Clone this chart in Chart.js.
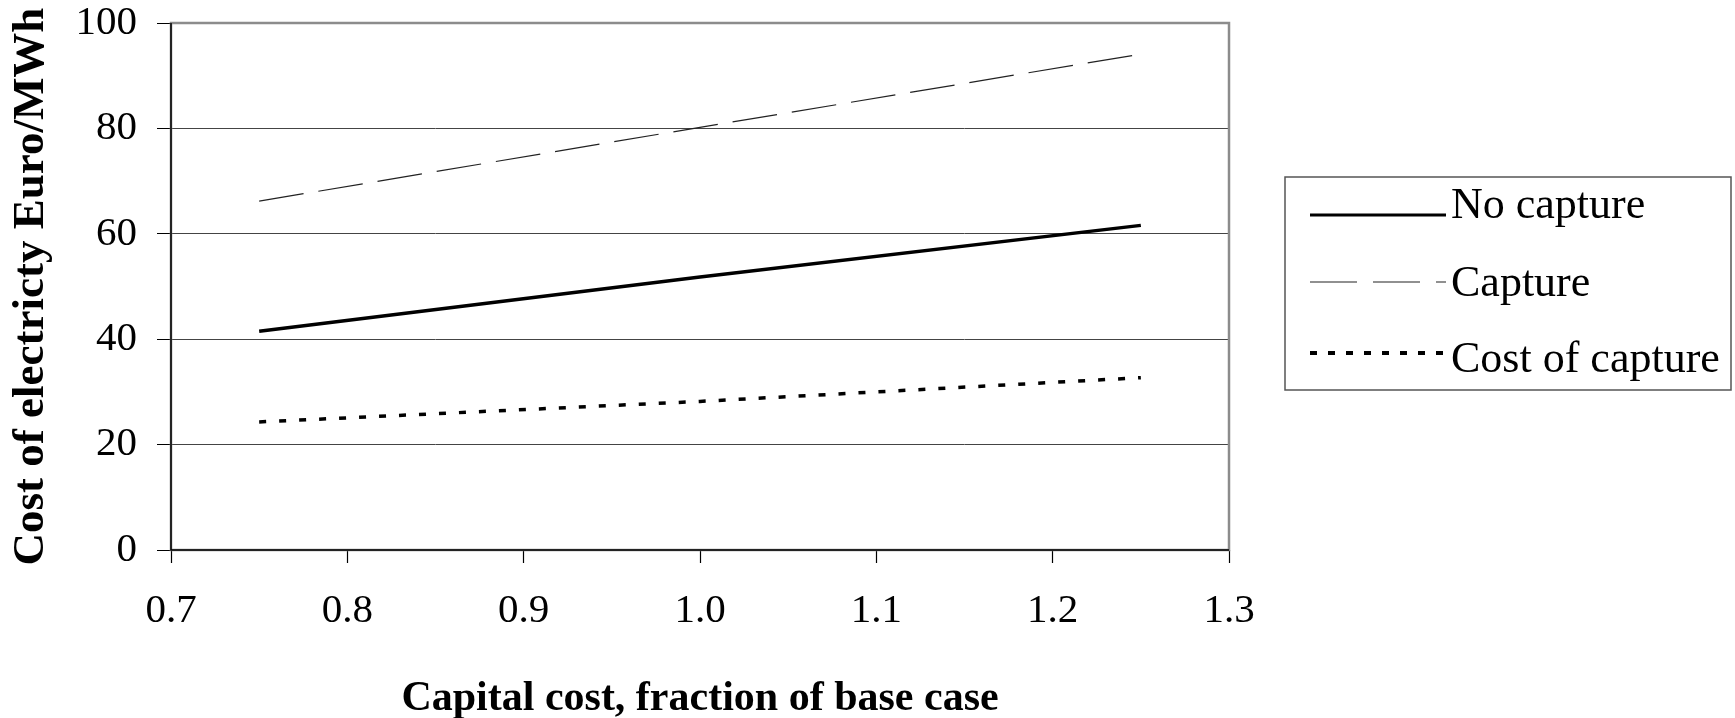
<!DOCTYPE html>
<html>
<head>
<meta charset="utf-8">
<title>Cost of electricity vs capital cost</title>
<script src="https://cdn.jsdelivr.net/npm/chart.js@4"></script>
<style>
  html, body { margin: 0; padding: 0; background: #ffffff; }
  canvas { display: block; }
</style>
</head>
<body>
<canvas id="chart" width="1735" height="718"></canvas>
<script>
// Capital cost as a fraction of the base case
const capitalFraction = [0.75, 1.0, 1.25];
// Cost of electricity, Euro/MWh
const noCapture = [41.5, 51.8, 61.6];
const capture = [66.2, 80.2, 94.1];
const costOfCapture = [24.3, 28.2, 32.7];

const xTickValues = [0.7, 0.8, 0.9, 1.0, 1.1, 1.2, 1.3];
const yTickValues = [0, 20, 40, 60, 80, 100];

const seriesNames = ['No capture', 'Capture', 'Cost of capture'];

const SERIF = '"Liberation Serif", "Times New Roman", serif';

function toPoints(ys) {
  return capitalFraction.map((x, i) => ({ x: x, y: ys[i] }));
}

// Grey plot frame with black value/category axis lines on top of it
const plotFrame = {
  id: 'plotFrame',
  beforeDatasetsDraw(chart) {
    const { ctx, chartArea: a } = chart;
    ctx.save();
    ctx.strokeStyle = '#8c8c8c';
    ctx.lineWidth = 2.5;
    ctx.strokeRect(a.left, a.top, a.right - a.left, a.bottom - a.top);
    ctx.strokeStyle = '#000000';
    ctx.lineWidth = 1.5;
    ctx.beginPath();
    ctx.moveTo(a.left, a.top);
    ctx.lineTo(a.left, a.bottom);
    ctx.lineTo(a.right, a.bottom);
    ctx.stroke();
    ctx.restore();
  }
};

// Boxed legend to the right of the plot, styled from each dataset
const boxedLegend = {
  id: 'boxedLegend',
  afterDraw(chart) {
    const { ctx } = chart;
    const box = { left: 1285, top: 177, right: 1731, bottom: 390 };
    ctx.save();
    ctx.strokeStyle = '#555555';
    ctx.lineWidth = 1.5;
    ctx.strokeRect(box.left, box.top, box.right - box.left, box.bottom - box.top);
    const lineY = [215, 282, 353];
    const textBase = [218, 296, 372];
    chart.data.datasets.forEach((ds, i) => {
      ctx.strokeStyle = ds.borderColor;
      ctx.lineWidth = ds.legendWidth || ds.borderWidth;
      ctx.setLineDash(ds.legendDash || ds.borderDash || []);
      ctx.beginPath();
      ctx.moveTo(1310, lineY[i]);
      ctx.lineTo(1446, lineY[i]);
      ctx.stroke();
      ctx.setLineDash([]);
      ctx.fillStyle = '#000000';
      ctx.font = '44px ' + SERIF;
      ctx.textBaseline = 'alphabetic';
      ctx.textAlign = 'left';
      ctx.fillText(ds.label, 1451, textBase[i]);
    });
    ctx.restore();
  }
};

new Chart(document.getElementById('chart'), {
  type: 'line',
  data: {
    datasets: [
      {
        label: seriesNames[0],
        data: toPoints(noCapture),
        borderColor: '#000000',
        borderWidth: 3.5,
        legendWidth: 3,
        pointRadius: 0,
        tension: 0
      },
      {
        label: seriesNames[1],
        data: toPoints(capture),
        borderColor: '#222222',
        borderWidth: 1.2,
        borderDash: [45, 15],
        legendDash: [47, 16],
        pointRadius: 0,
        tension: 0
      },
      {
        label: seriesNames[2],
        data: toPoints(costOfCapture),
        borderColor: '#000000',
        borderWidth: 3.5,
        borderDash: [7, 13],
        borderCapStyle: 'butt',
        legendDash: [7, 11],
        legendWidth: 4,
        pointRadius: 0,
        tension: 0
      }
    ]
  },
  options: {
    responsive: false,
    animation: false,
    devicePixelRatio: 1,
    layout: { padding: { left: 0, right: 506, top: 23, bottom: 0 } },
    plugins: {
      legend: { display: false },
      tooltip: { enabled: false }
    },
    scales: {
      x: {
        type: 'linear',
        min: 0.7,
        max: 1.3,
        afterBuildTicks(scale) {
          scale.ticks = xTickValues.map(v => ({ value: v }));
        },
        afterFit(scale) {
          scale.height = 168;
          scale.paddingLeft = 0;
          scale.paddingRight = 0;
        },
        border: { display: false },
        grid: {
          drawOnChartArea: false,
          drawTicks: true,
          tickLength: 13,
          tickColor: '#000000',
          tickWidth: 1.2
        },
        ticks: {
          color: '#000000',
          padding: 28,
          font: { family: SERIF, size: 41, lineHeight: 1 },
          maxRotation: 0,
          callback: v => Number(v).toFixed(1)
        },
        title: {
          display: true,
          text: 'Capital cost, fraction of base case',
          color: '#000000',
          font: { family: SERIF, size: 42, weight: 'bold', lineHeight: 0.9 },
          padding: { top: 0, bottom: 0 }
        }
      },
      y: {
        type: 'linear',
        min: 0,
        max: 100,
        afterBuildTicks(scale) {
          scale.ticks = yTickValues.map(v => ({ value: v }));
        },
        afterFit(scale) {
          scale.width = 171;
          scale.paddingTop = 0;
          scale.paddingBottom = 0;
        },
        border: { display: false },
        grid: {
          color: '#444444',
          lineWidth: 1,
          drawTicks: true,
          tickLength: 14,
          tickColor: '#000000'
        },
        ticks: {
          color: '#000000',
          padding: 20,
          font: { family: SERIF, size: 41, lineHeight: 1 }
        },
        title: {
          display: true,
          text: 'Cost of electricty Euro/MWh',
          color: '#000000',
          font: { family: SERIF, size: 45, weight: 'bold', lineHeight: 1 },
          padding: { top: 9, bottom: 0 }
        }
      }
    }
  },
  plugins: [plotFrame, boxedLegend]
});
</script>
</body>
</html>
